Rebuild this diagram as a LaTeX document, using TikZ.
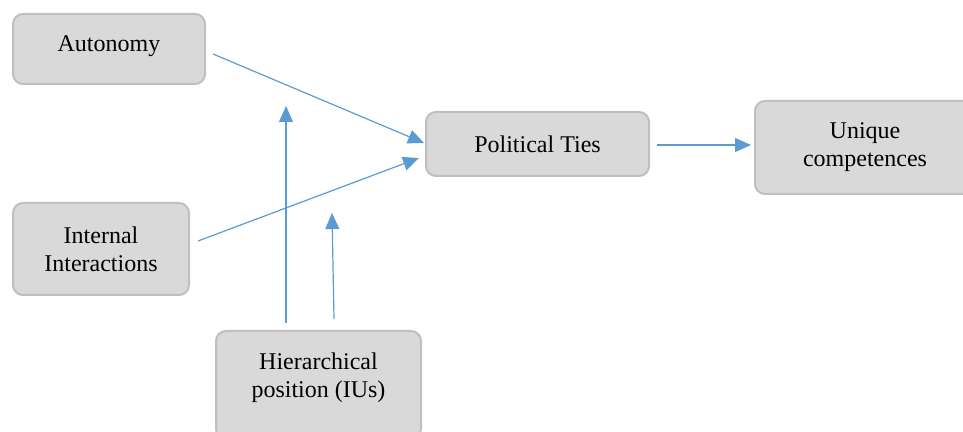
\documentclass[tikz,border=0pt]{standalone}
\usepackage{fontspec}
\setmainfont{Liberation Serif}
\usetikzlibrary{calc}
\usetikzlibrary{arrows.meta}
\definecolor{boxfill}{HTML}{D9D9D9}
\definecolor{boxline}{HTML}{BFBFBF}
\definecolor{linkblue}{HTML}{5B9BD5}
\tikzset{
  box/.style= {draw=boxline, line width=1pt, fill=boxfill, rounded corners=5pt,
    align=center, font=\fontsize{12}{14}\selectfont, inner sep=2pt},
  link/.style= {draw=linkblue, line width=0.6pt, -{Triangle[length=8pt, width=7pt]}},
}

\begin{document}
\begin{tikzpicture}[x=0.5pt, y=-0.5pt]
  \useasboundingbox (0,0) rectangle (963,432);
  \node [box, minimum width=96pt, minimum height=35pt, text depth=5pt] (auto) at (109,49) {Autonomy} ;
  \node [box, minimum width=88pt, minimum height=46pt] (inter) at (101,249) {Internal\\Interactions} ;
  \node [box, minimum width=111.5pt, minimum height=32pt] (pol) at (537.5,144) {Political Ties} ;
  \node [box, minimum width=110pt, minimum height=46.5pt] (uniq) at (865,147.5) {Unique\\competences} ;
  \node [box, minimum width=102.5pt, minimum height=54pt, text depth=10pt] (hier) at (318.5,385) {Hierarchical\\position (IUs)} ;

  \coordinate (m1) at (286,106) ;
  \coordinate (m2) at (332,213) ;

  \draw [link] ($(auto.east)+(7,5)$) -- ($(pol.west)+(-1,-1)$) ;
  \draw [link] ($(inter.east)+(8,-8)$) -- ($(pol.west)+(-6,14)$) ;
  \draw [link] ($(pol.east)+(7,1)$) -- ($(uniq.west)+(-3,-2.5)$) ;
  \draw [link] ($(hier.north)+(-32.5,-7)$) -- (m1) ;
  \draw [link] ($(hier.north)+(15.5,-11)$) -- (m2) ;
\end{tikzpicture}
\end{document}
